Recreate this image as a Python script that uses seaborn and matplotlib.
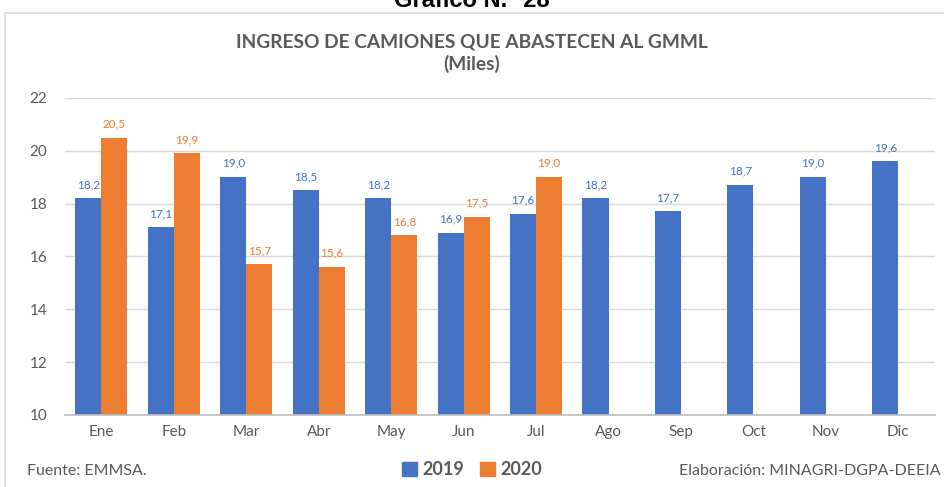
import numpy as np
import pandas as pd
import seaborn as sns
import matplotlib.pyplot as plt
from matplotlib.patches import Rectangle, Patch

#########################
# DATOS
#########################
meses = ["Ene", "Feb", "Mar", "Abr", "May", "Jun", "Jul", "Ago", "Sep", "Oct", "Nov", "Dic"]
v2019 = [18.2, 17.1, 19.0, 18.5, 18.2, 16.9, 17.6, 18.2, 17.7, 18.7, 19.0, 19.6]
v2020 = [20.5, 19.9, 15.7, 15.6, 16.8, 17.5, 19.0, np.nan, np.nan, np.nan, np.nan, np.nan]
y_ticks = [10, 12, 14, 16, 18, 20, 22]

azul = "#4472C4"
naranja = "#ED7D31"
gris = "#595959"

df = pd.DataFrame({"Mes": meses * 2,
                   "Año": ["2019"] * 12 + ["2020"] * 12,
                   "Valor": v2019 + v2020})

sns.set_theme(style="white")
plt.rcParams['font.family'] = ['Lato', 'DejaVu Sans']

fig = plt.figure(figsize=(9.44, 4.87), dpi=100)
ax = fig.add_axes([0.069, 0.148, 0.921, 0.651])

sns.barplot(data=df, x="Mes", y="Valor", hue="Año", order=meses,
            palette=[azul, naranja], saturation=1, width=0.72,
            linewidth=0, ax=ax, legend=False)

ax.set_ylim(10, 22)
ax.set_yticks(y_ticks)
ax.set_xlim(-0.5, 11.5)
ax.set_xlabel("")
ax.set_ylabel("")
ax.grid(axis="y", color="#d9d9d9", linewidth=1)
ax.set_axisbelow(True)
for s in ["top", "right", "left"]:
    ax.spines[s].set_visible(False)
ax.spines["bottom"].set_color("#bfbfbf")
ax.tick_params(axis="both", length=0, labelsize=11, labelcolor=gris)
ax.tick_params(axis="y", pad=13)
ax.tick_params(axis="x", pad=7)

# etiquetas de datos
for cont, col in zip(ax.containers, [azul, naranja]):
    for bar in cont:
        if bar is None:
            continue
        h = bar.get_height()
        if np.isnan(h):
            continue
        ax.annotate(f"{h:.1f}".replace(".", ","),
                    (bar.get_x() + bar.get_width() / 2, bar.get_y() + h),
                    xytext=(0, 6), textcoords="offset points",
                    ha="center", va="bottom", color=col, fontsize=8.5)

# titulos
fig.text(0.5, 0.986, "Gráfico N.° 28", ha="center", va="baseline",
         fontsize=17, fontweight="bold", color="black",
         family=["Liberation Sans", "DejaVu Sans"])
fig.text(0.5, 0.913, "INGRESO DE CAMIONES QUE ABASTECEN AL GMML", ha="center",
         va="center", fontsize=13.8, fontweight="bold", color=gris)
fig.text(0.5, 0.868, "(Miles)", ha="center", va="center",
         fontsize=13.8, fontweight="bold", color=gris)

# marco
fig.patches.append(Rectangle((5 / 944, -0.1), 1.1, 0.1 + (1 - 13 / 487),
                             transform=fig.transFigure, fill=False,
                             edgecolor="#d9d9d9", linewidth=1.2))

# leyenda
handles = [Patch(color=azul, label="2019"), Patch(color=naranja, label="2020")]
fig.legend(handles=handles, loc="center", bbox_to_anchor=(0.5, 0.036), ncol=2,
           frameon=False, handlelength=0.8, handleheight=0.8, handletextpad=0.3,
           columnspacing=0.9, prop={"size": 13, "weight": "bold"},
           labelcolor=gris)

fig.text(27 / 944, 0.032, "Fuente: EMMSA.", ha="left", va="center",
         fontsize=11.5, color=gris)
fig.text(0.996, 0.032, "Elaboración: MINAGRI-DGPA-DEEIA", ha="right",
         va="center", fontsize=11.5, color=gris)

fig.savefig("out.png", dpi=100)
